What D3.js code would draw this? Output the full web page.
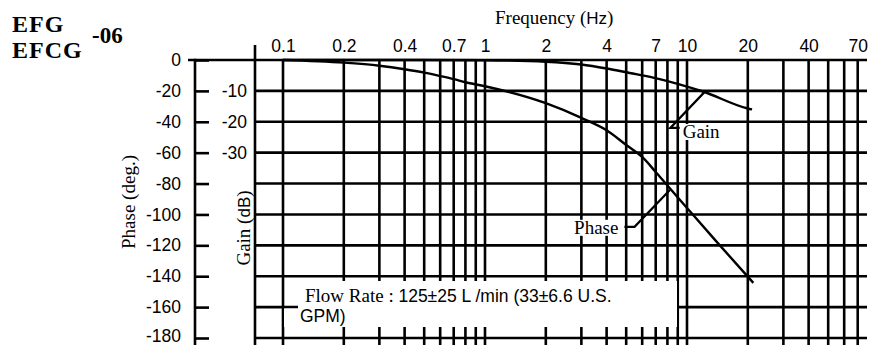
<!DOCTYPE html>
<html>
<head>
<meta charset="utf-8">
<script src="https://cdn.jsdelivr.net/npm/d3@7"></script>
<style>
  html, body { margin: 0; padding: 0; background: #fff; }
  svg { display: block; }
  .serif { font-family: "Liberation Serif", "Times New Roman", serif; }
  .sans { font-family: "Liberation Sans", Arial, sans-serif; }
</style>
</head>
<body>
<svg id="chart" width="872" height="345"></svg>
<script>
// Frequency response of the valve: gain and phase against frequency
const gridFreqs = [0.1,0.2,0.3,0.4,0.5,0.6,0.7,0.8,0.9,1,2,3,4,5,6,7,8,9,10,20,30,40,50,60,70];
const freqLabels = [0.1,0.2,0.4,0.7,1,2,4,7,10,20,40,70];
const phaseTicks = [0,-20,-40,-60,-80,-100,-120,-140,-160,-180];
const gainTicks = [-10,-20,-30];

// Phase curve (deg.)
const phaseFreq = [0.1,0.2,0.3,0.4,0.5,0.6,0.7,0.8,1,2,3,4,5,6,7,8,10,14,21.3];
const phaseDeg  = [0,-1.7,-3.7,-6,-8.2,-10.4,-12.4,-14.4,-17,-28,-37.5,-45.5,-55,-62.8,-72.5,-81.3,-95.8,-117.6,-144.3];

// Gain curve (dB)
const gainFreq = [0.1,0.5,1,2,3,4,5.2,6.8,10,12,20,21];
const gainDb   = [0,0,-0.1,-0.55,-1.45,-2.75,-4.2,-5.7,-8.6,-10.2,-15.7,-16];

// Callout leaders: [freq, value] in the curve's own units
const gainLeader  = [[12.2,-10.4],[8.27,-22],[9.2,-22]];
const phaseLeader = [[8.25,-84],[5.5,-108],[4.9,-108]];

const svg = d3.select("#chart");
const W = 872, H = 345;
svg.append("rect").attr("width", W).attr("height", H).attr("fill", "#fff");

const x = d3.scaleLog().domain([0.1, 100]).range([283, 889]);
const yPhase = d3.scaleLinear().domain([0, -180]).range([60, 338]);
const yGain = d3.scaleLinear().domain([0, -90]).range([60, 338]);

const phaseAxisX = 195, gainAxisX = 255, rightX = 867;
const ink = "#000", lw = 2.6;
const sansFamily = "Liberation Sans, Arial, sans-serif";

const grid = svg.append("g").attr("stroke", ink).attr("stroke-width", lw);

// horizontal grid (from gain axis to right edge)
grid.selectAll("line.h").data(phaseTicks.filter(d => d !== 0)).join("line")
  .attr("x1", gainAxisX).attr("x2", rightX)
  .attr("y1", d => yPhase(d)).attr("y2", d => yPhase(d));
// top border line
grid.append("line").attr("x1", 188).attr("x2", rightX)
  .attr("y1", yPhase(0)).attr("y2", yPhase(0));
// vertical grid lines
grid.selectAll("line.v").data(gridFreqs).join("line")
  .attr("x1", d => x(d)).attr("x2", d => x(d))
  .attr("y1", yPhase(0)).attr("y2", H);
// gain axis line
grid.append("line").attr("x1", gainAxisX).attr("x2", gainAxisX).attr("y1", 45).attr("y2", H);
// phase axis line
grid.append("line").attr("x1", phaseAxisX).attr("x2", phaseAxisX).attr("y1", yPhase(0) - 1.3).attr("y2", H);

// phase axis ticks + labels
const phaseAxis = d3.axisLeft(yPhase).tickValues(phaseTicks).tickSize(-14).tickPadding(14)
  .tickSizeOuter(0).tickFormat(d => String(d));
const pa = svg.append("g").attr("transform", `translate(${phaseAxisX},0)`).call(phaseAxis);
pa.select(".domain").remove();
pa.selectAll(".tick line").attr("stroke", ink).attr("stroke-width", lw);
pa.selectAll(".tick text").attr("font-family", sansFamily).attr("font-size", 17.5).attr("fill", ink)
  .attr("dy", d => d === -180 ? "0.22em" : "0.32em");

// gain axis labels
const gainAxis = d3.axisLeft(yGain).tickValues(gainTicks).tickSize(0).tickPadding(8)
  .tickFormat(d => String(d));
const ga = svg.append("g").attr("transform", `translate(${gainAxisX},0)`).call(gainAxis);
ga.select(".domain").remove();
ga.selectAll(".tick text").attr("font-family", sansFamily).attr("font-size", 17.5).attr("fill", ink);

// frequency labels along the top
const freqAxis = d3.axisTop(x).tickValues(freqLabels).tickSize(0).tickPadding(8)
  .tickFormat(d => String(d));
const fa = svg.append("g").attr("transform", `translate(0,${yPhase(0)})`).call(freqAxis);
fa.select(".domain").remove();
fa.selectAll(".tick text").attr("font-family", sansFamily).attr("font-size", 17.5).attr("fill", ink);

// Flow-rate note on a white panel over the grid
svg.append("path")
  .attr("d", "M298,281 H677 V327 H284 V308.5 H298 Z")
  .attr("fill", "#fff");
const note = svg.append("text").attr("fill", ink);
note.append("tspan").attr("x", 305).attr("y", 302).attr("class", "serif").attr("font-size", 19).text("Flow Rate : ");
note.append("tspan").attr("class", "sans").attr("font-size", 17.5).text("125\u00B125 L /min (33\u00B16.6 U.S.");
note.append("tspan").attr("x", 300).attr("y", 322).attr("class", "sans").attr("font-size", 17.5).text("GPM)");

// curves
const gainLine = d3.line().x(d => x(d[0])).y(d => yGain(d[1])).curve(d3.curveMonotoneX);
const phaseLine = d3.line().x(d => x(d[0])).y(d => yPhase(d[1])).curve(d3.curveMonotoneX);

svg.append("path").datum(d3.zip(gainFreq, gainDb))
  .attr("d", gainLine).attr("fill", "none").attr("stroke", ink).attr("stroke-width", 2.4);
svg.append("path").datum(d3.zip(phaseFreq, phaseDeg))
  .attr("d", phaseLine).attr("fill", "none").attr("stroke", ink).attr("stroke-width", 2.4);

// callouts
const leader = (scaleY) => d3.line().x(d => x(d[0])).y(d => scaleY(d[1]));
svg.append("path").datum(gainLeader).attr("d", leader(yGain))
  .attr("fill", "none").attr("stroke", ink).attr("stroke-width", 2.2);
svg.append("path").datum(phaseLeader).attr("d", leader(yPhase))
  .attr("fill", "none").attr("stroke", ink).attr("stroke-width", 2.2);

svg.append("rect").attr("x", x(gainLeader[2][0]) + 1).attr("y", yGain(gainLeader[2][1]) - 4)
  .attr("width", 38).attr("height", 16).attr("fill", "#fff");
svg.append("text").attr("class", "serif").attr("font-size", 19).attr("fill", ink)
  .attr("x", x(gainLeader[2][0]) + 3).attr("y", yGain(gainLeader[2][1]) + 10).text("Gain");

svg.append("rect").attr("x", x(phaseLeader[2][0]) - 52).attr("y", yPhase(phaseLeader[2][1]) - 7)
  .attr("width", 47).attr("height", 16).attr("fill", "#fff");
svg.append("text").attr("class", "serif").attr("font-size", 19).attr("fill", ink)
  .attr("text-anchor", "end")
  .attr("x", x(phaseLeader[2][0]) - 6).attr("y", yPhase(phaseLeader[2][1]) + 7).text("Phase");

// axis titles
const ft = svg.append("text").attr("x", 495).attr("y", 24).attr("fill", ink);
ft.append("tspan").attr("class", "serif").attr("font-size", 19).text("Frequency (");
ft.append("tspan").attr("class", "sans").attr("font-size", 17).text("Hz");
ft.append("tspan").attr("class", "serif").attr("font-size", 19).text(")");

const pt = svg.append("text").attr("transform", "translate(135,202) rotate(-90)")
  .attr("text-anchor", "middle").attr("fill", ink);
pt.append("tspan").attr("class", "serif").attr("font-size", 19).text("Phase (deg.)");

const gt = svg.append("text").attr("transform", "translate(250,228) rotate(-90)")
  .attr("text-anchor", "middle").attr("fill", ink);
gt.append("tspan").attr("class", "serif").attr("font-size", 19).text("Gain (");
gt.append("tspan").attr("class", "sans").attr("font-size", 17).text("dB");
gt.append("tspan").attr("class", "serif").attr("font-size", 19).text(")");

// model title
const title = svg.append("g").attr("class", "serif").attr("font-weight", "bold").attr("fill", ink);
title.append("text").attr("x", 12).attr("y", 32).attr("font-size", 24).attr("letter-spacing", 1).text("EFG");
title.append("text").attr("x", 12).attr("y", 58).attr("font-size", 24).attr("letter-spacing", 1).text("EFCG");
title.append("text").attr("x", 92).attr("y", 43).attr("font-size", 23).text("-06");
</script>
</body>
</html>
